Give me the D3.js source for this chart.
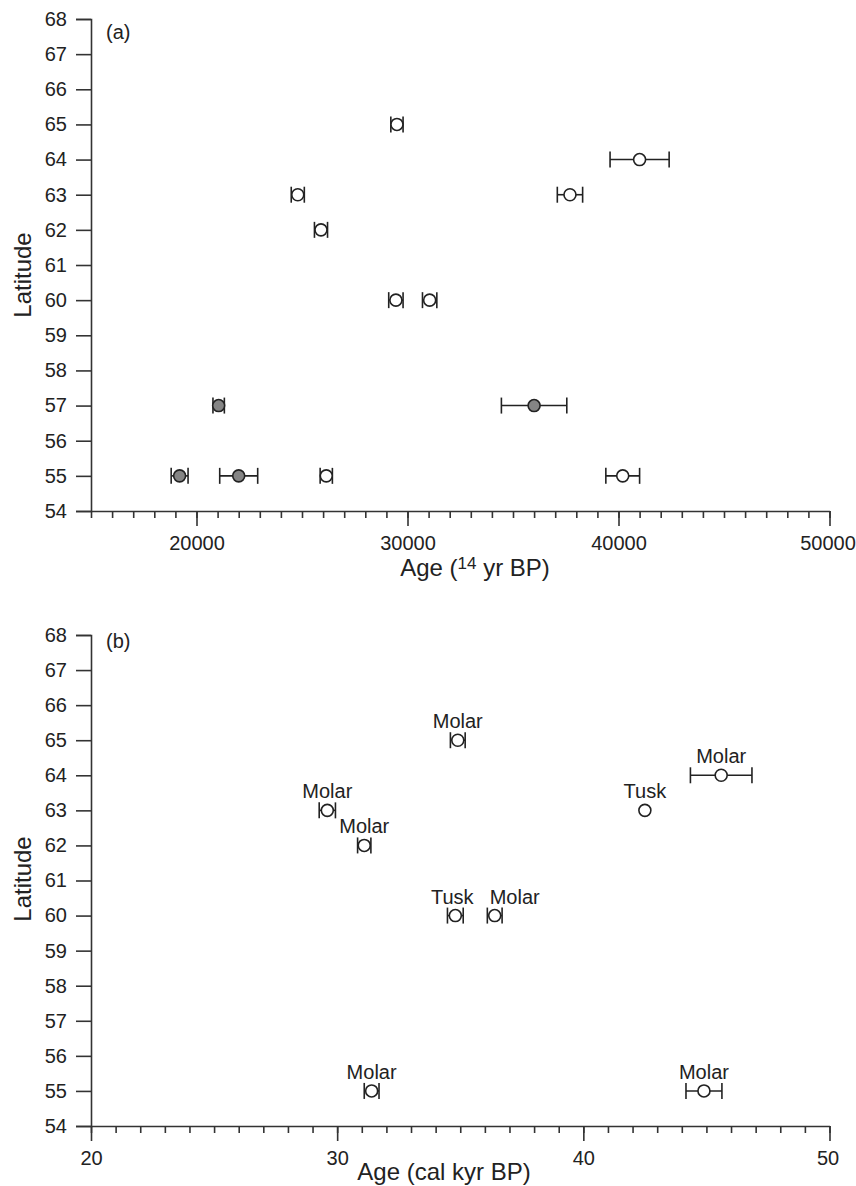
<!DOCTYPE html>
<html>
<head>
<meta charset="utf-8">
<script src="https://cdn.jsdelivr.net/npm/d3@7"></script>
<style>
  body { margin: 0; background: #fff; }
  svg { display: block; font-family: "Liberation Sans", Arial, sans-serif; }
  .axis path, .axis line { stroke: #333; stroke-width: 1.6; }
  .axis text { font-size: 20px; fill: #222; }
</style>
</head>
<body>
<svg id="chart" width="856" height="1186"></svg>
<script>
// panel (a): radiocarbon ages
const latA = [65, 64, 63, 63, 62, 60, 60, 57, 57, 55, 55, 55, 55];
const ageA = [29500, 41000, 24800, 37700, 25900, 29450, 31050, 21050, 36000, 19200, 22000, 26150, 40200];
const errA = [290, 1400, 310, 600, 310, 340, 340, 270, 1550, 400, 900, 290, 800];
const groupA = ['open', 'open', 'open', 'open', 'open', 'open', 'open', 'filled', 'filled', 'filled', 'filled', 'open', 'open'];
const xTicksA = [20000, 30000, 40000, 50000];

// panel (b): calibrated ages
const latB = [65, 64, 63, 63, 62, 60, 60, 55, 55];
const ageB = [34.9, 45.6, 29.6, 42.5, 31.1, 34.8, 36.4, 31.4, 44.9];
const errB = [0.3, 1.25, 0.33, 0, 0.27, 0.32, 0.3, 0.3, 0.73];
const labelB = ['Molar', 'Molar', 'Molar', 'Tusk', 'Molar', 'Tusk', 'Molar', 'Molar', 'Molar'];
const xTicksB = [20, 30, 40, 50];

const yTicks = d3.range(54, 69);
const fills = { open: '#fff', filled: '#858585' };

const svg = d3.select('#chart');

function drawPanel(opt) {
  const x = d3.scaleLinear().domain(opt.xDomain).range([91, 829.5]);
  const y = d3.scaleLinear().domain([54, 68]).range([opt.bottom, opt.top]);
  const g = svg.append('g');

  // minor x ticks
  g.append('g')
    .attr('class', 'axis')
    .attr('transform', `translate(0,${opt.bottom})`)
    .call(d3.axisBottom(x).tickValues(opt.minor).tickSize(7).tickSizeOuter(0).tickFormat(''))
    .call(a => a.select('.domain').remove());

  g.append('g')
    .attr('class', 'axis')
    .attr('transform', `translate(0,${opt.bottom})`)
    .call(d3.axisBottom(x).tickValues(opt.major).tickSize(15).tickSizeOuter(0).tickPadding(10).tickFormat(d3.format('d')))
    .call(a => a.selectAll('.tick:last-of-type text').attr('dx', -2));

  g.append('g')
    .attr('class', 'axis')
    .attr('transform', 'translate(91,0)')
    .call(d3.axisLeft(y).tickValues(yTicks).tickSize(15).tickPadding(9).tickFormat(d3.format('d')));

  g.append('text')
    .attr('transform', `translate(31,${opt.latCenter}) rotate(-90)`)
    .attr('text-anchor', 'middle')
    .style('font-size', '24px')
    .attr('fill', '#222')
    .text('Latitude');

  const title = g.append('text')
    .attr('x', opt.titleX)
    .attr('y', opt.titleY)
    .attr('text-anchor', 'middle')
    .style('font-size', '24px')
    .attr('fill', '#222');
  opt.title.forEach(part => {
    const t = title.append('tspan').text(part.text);
    if (part.sup) t.style('font-size', '17px').attr('baseline-shift', '40%');
  });

  g.append('text')
    .attr('x', 106)
    .attr('y', opt.tagY)
    .style('font-size', '20px')
    .attr('fill', '#222')
    .text(opt.tag);

  const pts = opt.lat.map((lat, i) => ({
    lat, age: opt.age[i], err: opt.err[i], group: opt.group ? opt.group[i] : 'open', label: opt.labels ? opt.labels[i] : null, i
  }));

  const bars = g.append('g')
    .attr('stroke', '#222')
    .attr('stroke-width', 1.6)
    .selectAll('g')
    .data(pts.filter(d => d.err > 0))
    .join('g');

  bars.append('line')
    .attr('x1', d => x(d.age - d.err)).attr('x2', d => x(d.age + d.err))
    .attr('y1', d => y(d.lat)).attr('y2', d => y(d.lat));
  bars.append('line')
    .attr('x1', d => x(d.age - d.err)).attr('x2', d => x(d.age - d.err))
    .attr('y1', d => y(d.lat) - 8).attr('y2', d => y(d.lat) + 8);
  bars.append('line')
    .attr('x1', d => x(d.age + d.err)).attr('x2', d => x(d.age + d.err))
    .attr('y1', d => y(d.lat) - 8).attr('y2', d => y(d.lat) + 8);

  g.append('g')
    .selectAll('circle')
    .data(pts)
    .join('circle')
    .attr('cx', d => x(d.age))
    .attr('cy', d => y(d.lat))
    .attr('r', 6)
    .attr('fill', d => fills[d.group])
    .attr('stroke', '#222')
    .attr('stroke-width', 1.6);

  if (opt.labels) {
    // the molar at 60 deg sits right of its point to clear the tusk label
    const shift = { 5: -3, 6: 20 };
    g.append('g')
      .selectAll('text')
      .data(pts)
      .join('text')
      .attr('x', d => x(d.age) + (shift[d.i] || 0))
      .attr('y', d => y(d.lat) - 12)
      .attr('text-anchor', 'middle')
      .style('font-size', '20px')
      .attr('fill', '#222')
      .text(d => d.label);
  }
}

drawPanel({
  xDomain: [15000, 50000], top: 19, bottom: 511,
  major: xTicksA, minor: d3.range(15000, 50001, 1000),
  lat: latA, age: ageA, err: errA, group: groupA,
  tag: '(a)', tagY: 39, latCenter: 275,
  title: [{ text: 'Age (' }, { text: '14', sup: true }, { text: ' yr BP)' }],
  titleX: 475, titleY: 576
});

drawPanel({
  xDomain: [20, 50], top: 635, bottom: 1126,
  major: xTicksB, minor: d3.range(20, 51, 1),
  lat: latB, age: ageB, err: errB, labels: labelB,
  tag: '(b)', tagY: 648, latCenter: 879,
  title: [{ text: 'Age (cal kyr BP)' }],
  titleX: 444, titleY: 1180
});
</script>
</body>
</html>
